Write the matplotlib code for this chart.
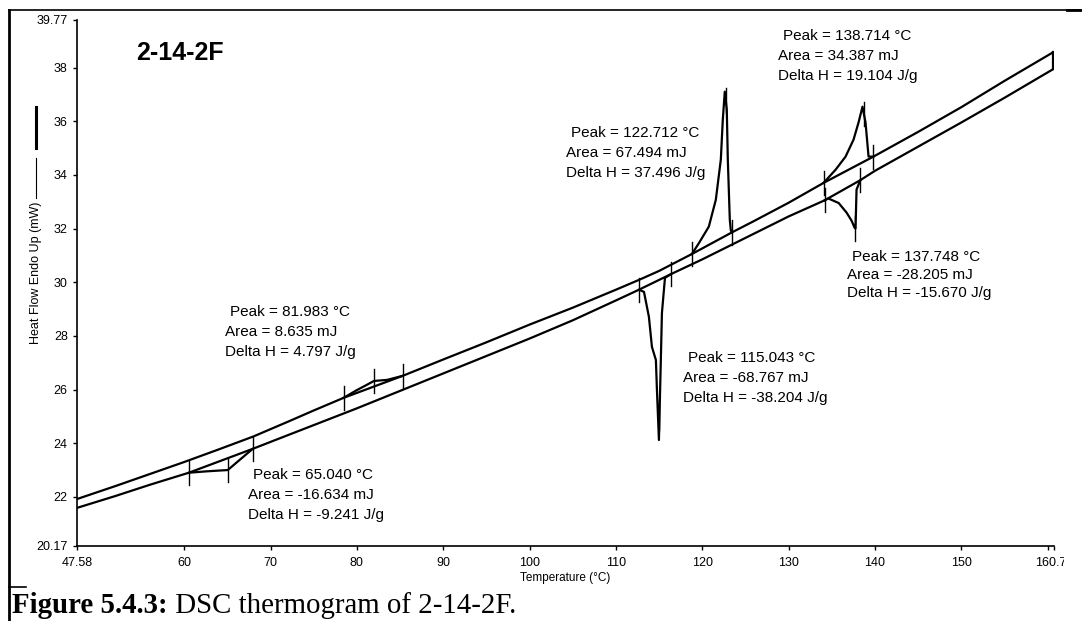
import matplotlib
matplotlib.use("Agg")
import matplotlib.pyplot as plt
from matplotlib.lines import Line2D
import matplotlib.transforms as mtransforms
import numpy as np

plt.rcParams['font.family'] = ['Liberation Sans', 'DejaVu Sans']

# ---------------- data ----------------
heat_T = [47.58, 52.0, 56.0, 60.0, 64.0, 68.0, 72.0, 75.0, 78.45, 80.0, 81.0, 81.98,
          83.5, 85.3, 90.0, 95.0, 100.0, 105.0, 110.0, 112.7, 115.0, 118.8, 119.6,
          120.76, 121.57, 122.15, 122.38, 122.61, 122.84, 122.96, 123.19, 123.3, 123.4,
          126.0, 130.0, 134.05, 135.44, 136.6, 137.52, 138.1, 138.56, 138.91, 139.26,
          139.83, 145.0, 150.0, 155.0, 160.6]
heat_mW = [21.92, 22.40, 22.85, 23.30, 23.77, 24.25, 24.80, 25.22, 25.69, 25.98, 26.15, 26.32,
           26.36, 26.51, 27.12, 27.76, 28.42, 29.05, 29.72, 30.09, 30.42, 31.05, 31.45,
           32.07, 33.07, 34.57, 36.06, 37.10, 36.43, 34.57, 32.33, 31.95, 31.85,
           32.28, 32.96, 33.70, 34.19, 34.68, 35.31, 35.95, 36.54, 35.95, 34.68,
           34.68, 35.60, 36.52, 37.50, 38.56]

cool_T = [47.58, 52.0, 56.0, 60.53, 62.5, 64.0, 65.04, 66.5, 67.93, 72.0, 76.0, 80.0,
          85.0, 90.0, 95.0, 100.0, 105.0, 110.0, 112.67, 113.25, 113.82, 114.17, 114.63,
          114.75, 114.98, 115.1, 115.33, 115.68, 116.37, 120.0, 125.0, 130.0, 134.17,
          134.6, 135.8, 136.7, 137.3, 137.64, 137.75, 137.87, 138.3, 140.0, 145.0,
          150.0, 155.0, 160.6]
cool_mW = [21.59, 22.03, 22.45, 22.90, 22.95, 22.98, 23.00, 23.40, 23.79, 24.30, 24.80, 25.30,
           25.95, 26.60, 27.25, 27.90, 28.58, 29.32, 29.72, 29.64, 28.71, 27.59, 27.10,
           25.99, 24.12, 25.72, 28.86, 30.16, 30.30, 30.85, 31.65, 32.45, 33.05,
           33.12, 32.95, 32.60, 32.29, 32.03, 32.00, 33.45, 33.80, 34.15, 35.05,
           35.95, 36.87, 37.93]

heat_limits = [(78.45, 85.30), (118.80, 123.40), (134.05, 139.83)]
cool_limits = [(60.53, 67.93), (112.67, 116.37), (134.17, 138.30)]
heat_peaks = [81.983, 122.712, 138.714]
heat_area = [8.635, 67.494, 34.387]
heat_dH = [4.797, 37.496, 19.104]
cool_peaks = [65.040, 115.043, 137.748]
cool_area = [-16.634, -68.767, -28.205]
cool_dH = [-9.241, -38.204, -15.670]

# annotation anchors (left edge, centre of first line) in data units
heat_label_pos = [(64.72, 28.90), (104.20, 35.57), (128.74, 39.16)]
cool_label_pos = [(67.38, 22.81), (117.74, 27.18), (136.73, 30.95)]
cool_label_gap = [20, 20, 18]   # px between lines
heat_label_gap = [20, 20, 20]

x_ticks = [47.58, 60, 70, 80, 90, 100, 110, 120, 130, 140, 150, 160, 160.74]
x_labels = ['47.58', '60', '70', '80', '90', '100', '110', '120', '130', '140', '150', '', '160.74']
y_ticks = [20.17, 22, 24, 26, 28, 30, 32, 34, 36, 38, 39.77]
y_labels = ['20.17', '22', '24', '26', '28', '30', '32', '34', '36', '38', '39.77']

title = '2-14-2F'
x_title = 'Temperature (°C)'
y_title = 'Heat Flow Endo Up (mW)'
caption_bold = 'Figure 5.4.3:'
caption_rest = ' DSC thermogram of 2-14-2F.'

# ---------------- figure ----------------
W, H, DPI = 1082, 621, 100
fig = plt.figure(figsize=(W / DPI, H / DPI), dpi=DPI)
fig.patch.set_facecolor('white')
PX = mtransforms.Affine2D().scale(1.0 / W, -1.0 / H).translate(0, 1) + fig.transFigure

ax_l, ax_r, ax_t, ax_b = 77, 1054, 20, 546
ax = fig.add_axes([ax_l / W, 1 - ax_b / H, (ax_r - ax_l) / W, (ax_b - ax_t) / H])
ax.set_xlim(x_ticks[0], x_ticks[-1])
ax.set_ylim(y_ticks[0], y_ticks[-1])
for s in ['top', 'right']:
    ax.spines[s].set_visible(False)
for s in ['left', 'bottom']:
    ax.spines[s].set_linewidth(1.2)
ax.set_xticks(x_ticks)
ax.set_xticklabels(x_labels)
ax.set_yticks(y_ticks)
ax.set_yticklabels(y_labels)
ax.tick_params(axis='both', direction='out', length=3.2, width=1, labelsize=9, colors='black')
ax.tick_params(axis='y', pad=3.5)
ax.tick_params(axis='x', pad=4.5)
# the reference image is cut just after the last tick label begins
last = ax.get_xticklabels()[-1]
last.set_clip_on(True)
last.set_clip_box(mtransforms.Bbox.from_extents(0, 0, 1064, H))

LW = 1.6
ax.plot(heat_T, heat_mW, color='black', lw=LW, solid_joinstyle='round')
ax.plot(cool_T, cool_mW, color='black', lw=LW, solid_joinstyle='round')
ax.plot([heat_T[-1], cool_T[-1]], [heat_mW[-1], cool_mW[-1]], color='black', lw=LW)

TICK_H = 0.45

def mark(T, curveT, curveY):
    v = np.interp(T, curveT, curveY)
    ax.plot([T, T], [v - TICK_H, v + TICK_H], color='black', lw=1.0)
    return v

for (t1, t2), pk in zip(heat_limits, heat_peaks):
    v1 = mark(t1, heat_T, heat_mW)
    v2 = mark(t2, heat_T, heat_mW)
    ax.plot([t1, t2], [v1, v2], color='black', lw=LW)
    mark(pk, heat_T, heat_mW)
for (t1, t2), pk in zip(cool_limits, cool_peaks):
    v1 = mark(t1, cool_T, cool_mW)
    v2 = mark(t2, cool_T, cool_mW)
    ax.plot([t1, t2], [v1, v2], color='black', lw=LW)
    mark(pk, cool_T, cool_mW)

def block(pos, gap, pk, area, dh):
    lines = [f'Peak = {pk:.3f} °C', f'Area = {area:.3f} mJ', f'Delta H = {dh:.3f} J/g']
    for i, s in enumerate(lines):
        dx = 3.6 if i == 0 else 0.0
        ax.annotate(s, xy=pos, xycoords='data', xytext=(dx, -i * gap * 0.72),
                    textcoords='offset points', ha='left', va='center', fontsize=11)

for p, g, pk, a, d in zip(heat_label_pos, heat_label_gap, heat_peaks, heat_area, heat_dH):
    block(p, g, pk, a, d)
for p, g, pk, a, d in zip(cool_label_pos, cool_label_gap, cool_peaks, cool_area, cool_dH):
    block(p, g, pk, a, d)

ax.text(136, 53, title, transform=PX, ha='left', va='center', fontsize=18, fontweight='bold')

# axis titles
fig.text(565, 578, x_title, transform=PX, ha='center', va='center', fontsize=8.5)
fig.text(36, 273, y_title, transform=PX, ha='center', va='center', fontsize=9, rotation=90)
fig.add_artist(Line2D([36, 36], [158, 198], transform=PX, color='black', lw=0.8))
fig.add_artist(Line2D([36, 36], [107, 148], transform=PX, color='black', lw=2.2))

# frame of the figure cell
fig.add_artist(Line2D([9, 9], [10, 621], transform=PX, color='black', lw=2.0))
fig.add_artist(Line2D([9, 1082], [10, 10], transform=PX, color='black', lw=1.2))
fig.add_artist(Line2D([1067, 1082], [10, 10], transform=PX, color='black', lw=2.0))
fig.add_artist(Line2D([9, 26], [587, 587], transform=PX, color='black', lw=1.2))

# caption
t1 = fig.text(12, 613, caption_bold, transform=PX, ha='left', va='baseline',
              fontsize=20.8, fontweight='bold', family=['Liberation Serif', 'DejaVu Serif'])
fig.canvas.draw()
bb = t1.get_window_extent()
fig.text(bb.x1 / W, 1 - 613 / H, caption_rest, ha='left', va='baseline',
         fontsize=20.8, family=['Liberation Serif', 'DejaVu Serif'])

fig.savefig('out.png', dpi=DPI, facecolor='white')
